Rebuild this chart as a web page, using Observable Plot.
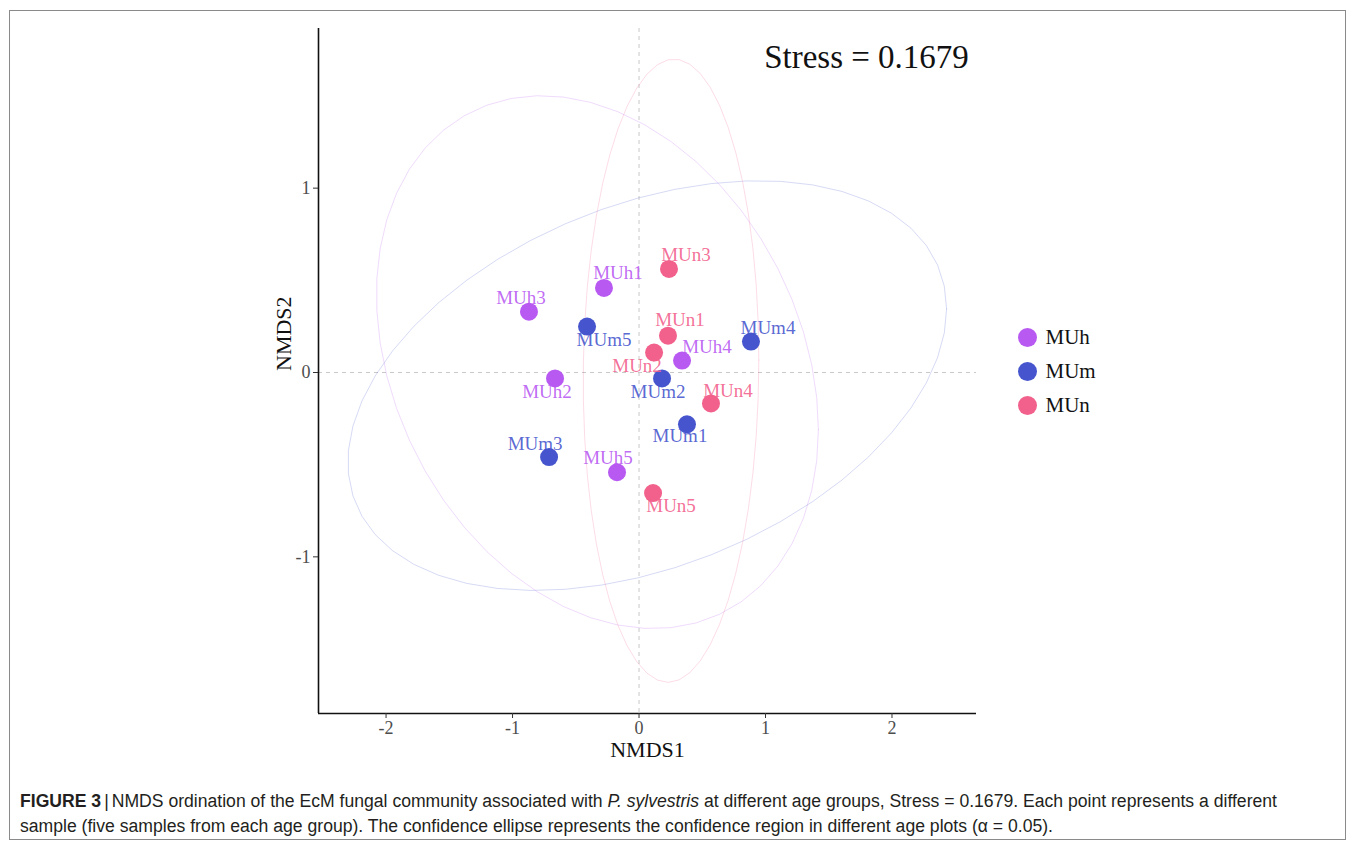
<!DOCTYPE html>
<html>
<head>
<meta charset="utf-8">
<script src="https://cdn.jsdelivr.net/npm/d3@7"></script>
<script src="https://cdn.jsdelivr.net/npm/@observablehq/plot@0.6"></script>
<style>
  html, body { margin: 0; padding: 0; background: #fff; }
  body { width: 1355px; height: 848px; position: relative; overflow: hidden; }
  #frame { position: absolute; left: 9px; top: 10px; width: 1337px; height: 830px; border: 1.5px solid #8a8a8a; box-sizing: border-box; }
  #chart { position: absolute; left: 0; top: 0; }
  #legend { position: absolute; left: 1000px; top: 320px; }
  #caption { position: absolute; left: 20px; top: 789px; font-family: "Liberation Sans", Arial, sans-serif; font-size: 17.6px; line-height: 25px; color: #231f20; white-space: nowrap; letter-spacing: 0px; }
  #caption .sep { margin: 0 3px 0 3px; font-weight: normal; }
</style>
</head>
<body>
<div id="frame"></div>
<div id="chart"></div>
<div id="legend"></div>
<div id="caption"></div>
<script>
// ---------------- data ----------------
const groups = ["MUh", "MUm", "MUn"];
const groupColors = ["#b85af2", "#4655cd", "#f2608c"];
const samples = ["MUh1", "MUh2", "MUh3", "MUh4", "MUh5",
                 "MUm1", "MUm2", "MUm3", "MUm4", "MUm5",
                 "MUn1", "MUn2", "MUn3", "MUn4", "MUn5"];
const sampleGroups = ["MUh", "MUh", "MUh", "MUh", "MUh",
                      "MUm", "MUm", "MUm", "MUm", "MUm",
                      "MUn", "MUn", "MUn", "MUn", "MUn"];
const nmds1 = [-0.277, -0.664, -0.870, 0.340, -0.174,
               0.379, 0.182, -0.711, 0.885, -0.411,
               0.229, 0.119, 0.237, 0.569, 0.111];
const nmds2 = [0.459, -0.032, 0.330, 0.065, -0.541,
               -0.281, -0.032, -0.459, 0.168, 0.249,
               0.200, 0.108, 0.562, -0.168, -0.654];
const xTicks = [-2, -1, 0, 1, 2];
const yTicks = [-1, 0, 1];
const stressValue = 0.1679;
const ellipseLevel = 0.95;
const xTitle = "NMDS1";
const yTitle = "NMDS2";

// ---------------- derived table ----------------
const points = samples.map((s, i) => ({sample: s, group: sampleGroups[i], x: nmds1[i], y: nmds2[i]}));

// confidence ellipse (multivariate normal, as ggplot2 stat_ellipse type = "norm")
function confEllipse(pts, level, segments = 51) {
  const n = pts.length;
  const mx = d3.mean(pts, p => p.x), my = d3.mean(pts, p => p.y);
  let sxx = 0, syy = 0, sxy = 0;
  for (const p of pts) { sxx += (p.x - mx) ** 2; syy += (p.y - my) ** 2; sxy += (p.x - mx) * (p.y - my); }
  sxx /= n - 1; syy /= n - 1; sxy /= n - 1;
  const a = Math.sqrt(sxx), b = sxy / a, c = Math.sqrt(Math.max(0, syy - b * b));
  const dfd = n - 1;
  const fq = (dfd / 2) * (Math.pow(1 - level, -2 / dfd) - 1); // qf(level, 2, dfd)
  const radius = Math.sqrt(2 * fq);
  const out = [];
  for (let i = 0; i <= segments; i++) {
    const t = (i / segments) * 2 * Math.PI;
    const u = Math.cos(t), v = Math.sin(t);
    out.push({x: mx + radius * a * u, y: my + radius * (b * u + c * v), i});
  }
  return out;
}
const ellipses = groups.flatMap(g => confEllipse(points.filter(p => p.group === g), ellipseLevel).map(e => ({...e, group: g})));

// domains with ggplot-like 5% expansion
function expand(ext) { const d = (ext[1] - ext[0]) * 0.05; return [ext[0] - d, ext[1] + d]; }
const xDomain = expand(d3.extent([...ellipses, ...points], d => d.x));
const yDomain = expand(d3.extent([...ellipses, ...points], d => d.y));

// label nudges (px), mimicking ggrepel placement in the reference
const labelNudge = {
  MUh1: [14, -15], MUh2: [-8, 14], MUh3: [-8, -14], MUh4: [25, -14], MUh5: [-9, -14],
  MUm1: [-7, 12], MUm2: [-4, 14], MUm3: [-14, -13], MUm4: [17, -14], MUm5: [17, 13],
  MUn1: [12, -16], MUn2: [-17, 13], MUn3: [17, -14], MUn4: [17, -13], MUn5: [18, 13]
};

const serif = "'Liberation Serif', 'Times New Roman', serif";

const chart = Plot.plot({
  width: 1355,
  height: 770,
  marginLeft: 318,
  marginRight: 379,
  marginTop: 28,
  marginBottom: 57,
  style: {fontFamily: serif, background: "transparent", overflow: "visible"},
  x: {domain: xDomain},
  y: {domain: yDomain},
  color: {domain: groups, range: groupColors},
  marks: [
    Plot.ruleX([0], {stroke: "#c8c8c8", strokeWidth: 1, strokeDasharray: "4,4"}),
    Plot.ruleY([0], {stroke: "#c8c8c8", strokeWidth: 1, strokeDasharray: "4,4"}),
    Plot.line(ellipses, {x: "x", y: "y", z: "group", stroke: "group", strokeOpacity: 0.22, strokeWidth: 1, curve: "linear"}),
    Plot.ruleX([xDomain[0]], {stroke: "#111", strokeWidth: 1.6}),
    Plot.ruleY([yDomain[0]], {stroke: "#111", strokeWidth: 1.6}),
    Plot.axisX({ticks: xTicks, tickSize: 5, tickPadding: 3, fontSize: 18, fill: "#4d4d4d", stroke: "#333", label: null, tickFormat: d => String(d)}),
    Plot.axisY({ticks: yTicks, tickSize: 5, tickPadding: 3, fontSize: 18, fill: "#4d4d4d", stroke: "#333", label: null, tickFormat: d => String(d)}),
    Plot.dot(points, {x: "x", y: "y", r: 9, fill: "group", stroke: "none"}),
    ...points.map(p => Plot.text([p], {
      x: "x", y: "y", text: "sample", fill: "group", fillOpacity: 0.9,
      dx: labelNudge[p.sample][0], dy: labelNudge[p.sample][1],
      fontSize: 19, fontFamily: serif
    })),
    Plot.text([`Stress = ${stressValue}`], {frameAnchor: "top", dx: 219, dy: 16, fontSize: 33, fill: "#111", fontFamily: serif}),
    Plot.text([xTitle], {frameAnchor: "bottom", dy: 43, fontSize: 22, fill: "#111", fontFamily: serif}),
    Plot.text([yTitle], {frameAnchor: "left", dx: -35, rotate: -90, fontSize: 22, fill: "#111", fontFamily: serif})
  ]
});
document.getElementById("chart").appendChild(chart);

// legend
const legend = Plot.plot({
  width: 130,
  height: 102,
  margin: 0,
  marginTop: 17,
  marginBottom: 17,
  style: {fontFamily: serif, background: "transparent", overflow: "visible"},
  x: {axis: null, domain: [0, 1]},
  y: {axis: null, domain: groups, type: "point", padding: 0},
  color: {domain: groups, range: groupColors},
  marks: [
    Plot.dot(groups, {y: d => d, frameAnchor: "left", dx: 27, r: 9.5, fill: d => d}),
    Plot.text(groups, {y: d => d, text: d => d, frameAnchor: "left", dx: 45, textAnchor: "start", fontSize: 21, fill: "#111", fontFamily: serif})
  ]
});
document.getElementById("legend").appendChild(legend);

// caption
document.getElementById("caption").innerHTML =
  `<b>FIGURE 3</b><span class="sep">|</span>NMDS ordination of the EcM fungal community associated with <i>P. sylvestris</i> at different age groups, Stress = ${stressValue}. Each point represents a different<br>` +
  `sample (five samples from each age group). The confidence ellipse represents the confidence region in different age plots (α = 0.05).`;
</script>
</body>
</html>
